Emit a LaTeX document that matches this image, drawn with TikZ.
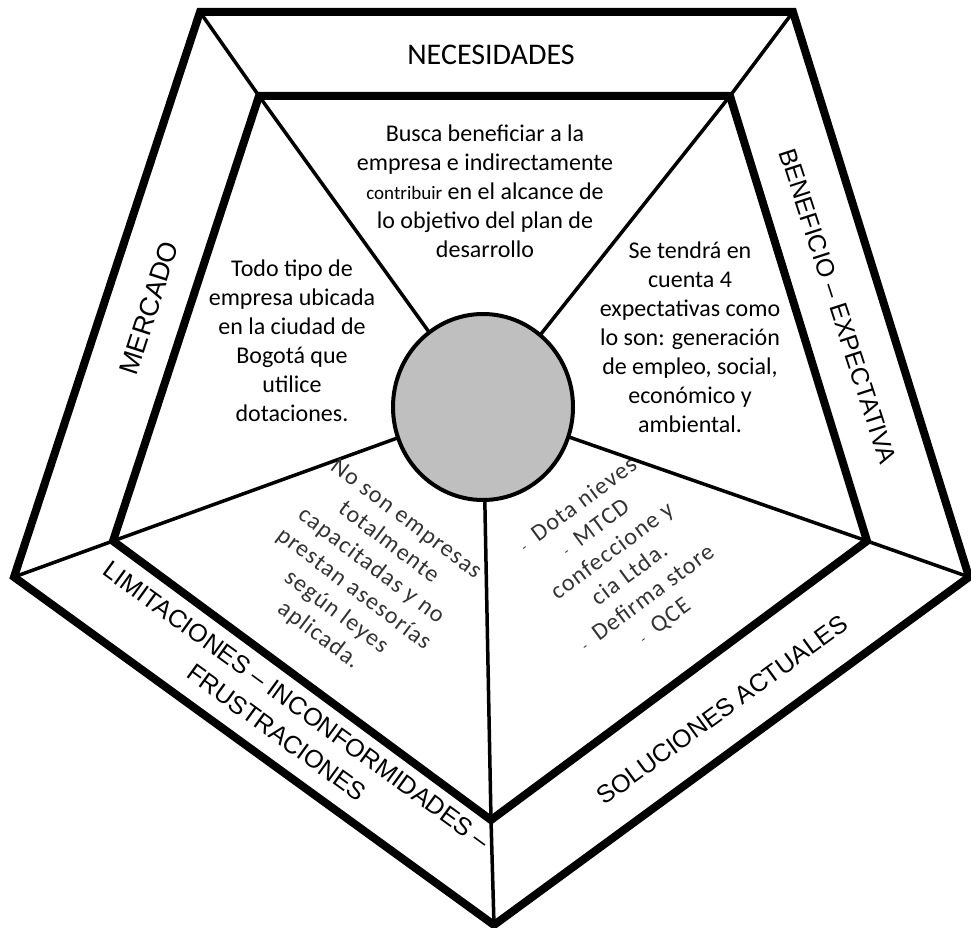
\documentclass[tikz,border=0pt]{standalone}
\usepackage{fontspec}
\setmainfont{Carlito}
\newfontfamily\arialfont{Liberation Sans}
\newfontfamily\spacedfont[LetterSpace=5]{Carlito}
\usetikzlibrary{shapes.geometric}
\begin{document}
\begin{tikzpicture}[x=1pt,y=-1pt,
  frame/.style={line width=8pt, line join=miter},
  spoke/.style={line width=3.5pt},
  lbl/.style={font=\fontsize{30}{34}\selectfont, align=center, inner sep=0pt},
  albl/.style={font=\arialfont\fontsize{25}{34}\selectfont, align=center, inner sep=0pt},
  body/.style={font=\fontsize{24}{29}\selectfont, align=center, inner sep=0pt},
  rbody/.style={font=\spacedfont\fontsize{24}{29}\selectfont, align=center, inner sep=0pt, text=black!80},
]
\useasboundingbox (0,0) rectangle (971,928);
% outer pentagon
\coordinate (oTL) at (200,12);
\coordinate (oTR) at (793,12);
\coordinate (oR) at (969,577);
\coordinate (oB) at (494,925);
\coordinate (oL) at (14,577);
% inner pentagon
\coordinate (iTL) at (259,96);
\coordinate (iTR) at (730,96);
\coordinate (iR) at (867,541);
\coordinate (iB) at (491,820);
\coordinate (iL) at (113,541);
% centre circle
\node[ellipse, minimum width=180pt, minimum height=186pt, inner sep=0pt] (c) at (483,407) {};
% spokes
\draw[spoke] (c) -- (iTL) -- (oTL);
\draw[spoke] (c) -- (iTR) -- (oTR);
\draw[spoke] (c) -- (iR) -- (oR);
\draw[spoke] (c) -- (iB) -- (oB);
\draw[spoke] (c) -- (iL) -- (oL);
% pentagons
\draw[frame] (oTL) -- (oTR) -- (oR) -- (oB) -- (oL) -- cycle;
\draw[frame] (iTL) -- (iTR) -- (iR) -- (iB) -- (iL) -- cycle;
\draw[line width=4pt, fill=black!25] (c.center) ellipse [x radius=90pt, y radius=93pt];
% outer labels
\node[lbl] (nec) at (491,55) {NECESIDADES};
\node[albl, font=\arialfont\fontsize{27}{34}\selectfont, rotate=72] (mer) at (149,308) {MERCADO};
\node[albl, rotate=-72] (ben) at (838,306) {BENEFICIO – EXPECTATIVA};
\node[albl, rotate=36] (sol) at (722,710) {SOLUCIONES ACTUALES};
\node[albl, rotate=-36] (lim) at (287,719) {LIMITACIONES – INCONFORMIDADES –\\FRUSTRACIONES};
% inner texts
\node[body] (t1) at (485,191) {Busca beneficiar a la\\empresa e indirectamente\\{\fontsize{19}{29}\selectfont contribuir} en el alcance de\\lo objetivo del plan de\\desarrollo};
\node[body] (t2) at (292,341) {Todo tipo de\\empresa ubicada\\en la ciudad de\\Bogotá que\\utilice\\dotaciones.};
\node[body] (t3) at (690,337) {Se tendrá en\\cuenta 4\\expectativas como\\lo son: generación\\de empleo, social,\\económico y\\ambiental.};
\node[rbody, rotate=-37] (t4) at (362,578) {No son empresas\\totalmente\\capacitadas y no\\prestan asesorías\\según leyes\\aplicada.};
\node[rbody, rotate=36.5] (t5) at (621,563) {{\fontsize{14}{14}\selectfont -}\hspace{12pt}Dota nieves\\{\fontsize{14}{14}\selectfont -}\hspace{12pt}MTCD\\confeccione y\\cia Ltda.\\{\fontsize{14}{14}\selectfont -}\hspace{12pt}Defirma store\\{\fontsize{14}{14}\selectfont -}\hspace{12pt}QCE};
\end{tikzpicture}
\end{document}
